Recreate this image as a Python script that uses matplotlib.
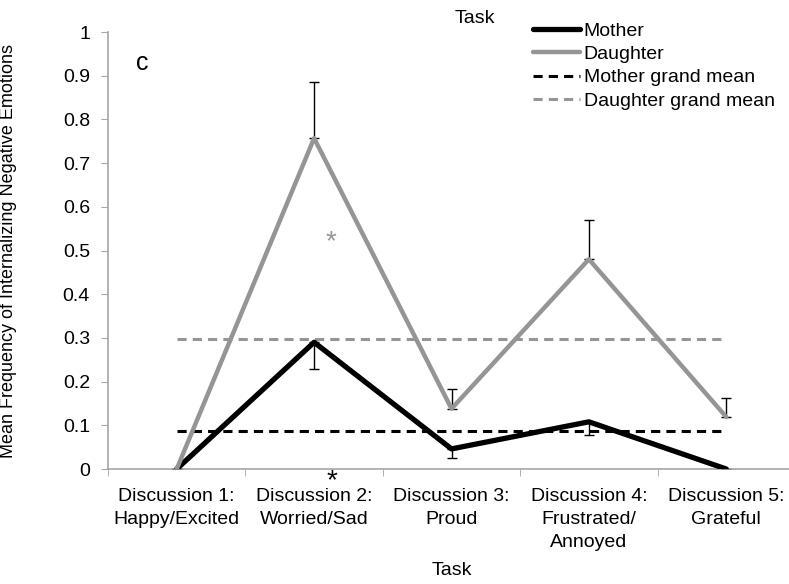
import matplotlib
matplotlib.use("Agg")
import matplotlib.pyplot as plt

plt.rcParams['font.family'] = ['Liberation Sans', 'DejaVu Sans']

# Data
tasks = ["Discussion 1:\nHappy/Excited", "Discussion 2:\nWorried/Sad", "Discussion 3:\nProud",
         "Discussion 4:\nFrustrated/\nAnnoyed", "Discussion 5:\nGrateful"]
mother = [0.0, 0.29, 0.046, 0.108, 0.0]
mother_err = [0.0, 0.062, 0.021, 0.03, 0.0]
daughter = [0.0, 0.757, 0.138, 0.48, 0.119]
daughter_err = [0.0, 0.128, 0.046, 0.09, 0.043]
mother_grand_mean = 0.087
daughter_grand_mean = 0.297
yticks = [0, 0.1, 0.2, 0.3, 0.4, 0.5, 0.6, 0.7, 0.8, 0.9, 1]
ytick_labels = ["0", "0.1", "0.2", "0.3", "0.4", "0.5", "0.6", "0.7", "0.8", "0.9", "1"]

GREY = "#959595"
AXIS = "#a6a6a6"
FS = 14

fig = plt.figure(figsize=(7.89, 5.84), dpi=100)
ax = fig.add_axes([0.1369, 0.1969, 0.8707, 0.7483])

x = list(range(len(tasks)))

# error bars (one sided, as in the original)
ax.errorbar(x, daughter, yerr=[[0] * len(x), daughter_err], fmt='none',
            ecolor='black', elinewidth=1, capsize=3.5, capthick=1, zorder=2)
ax.errorbar(x, mother, yerr=[mother_err, [0] * len(x)], fmt='none',
            ecolor='black', elinewidth=1, capsize=3.5, capthick=1, zorder=2)

ax.plot(x, mother, color='black', lw=3.8, label="Mother", zorder=3,
        solid_capstyle='round')
ax.plot(x, daughter, color=GREY, lw=3.2, label="Daughter", zorder=3,
        solid_capstyle='round')
ax.plot([x[0], x[-1]], [mother_grand_mean] * 2, color='black', lw=2.2,
        ls=(0, (3, 2)), label="Mother grand mean", zorder=2)
ax.plot([x[0], x[-1]], [daughter_grand_mean] * 2, color=GREY, lw=2.2,
        ls=(0, (3, 2)), label="Daughter grand mean", zorder=2)

# significance markers
ax.text(1.12, 0.52, "*", color=GREY, fontsize=20, ha='center', va='center')
ax.text(1.13, -0.029, "*", color='black', fontsize=20, ha='center', va='center',
        clip_on=False)
ax.text(-0.25, 0.93, "c", fontsize=18, ha='center', va='center')

ax.set_xlim(-0.5, 4.5)
ax.set_ylim(0, 1)
ax.set_yticks(yticks)
ax.set_yticklabels(ytick_labels, fontsize=FS)
ax.set_xticks(x)
ax.set_xticklabels(tasks, fontsize=FS, linespacing=1.45)
ax.set_xticks([i - 0.5 for i in x] + [4.5], minor=True)
ax.tick_params(axis='x', which='major', length=0, pad=14)
ax.tick_params(axis='x', which='minor', length=5, color=AXIS, direction='out')
ax.tick_params(axis='y', length=5, color=AXIS, direction='out', pad=8)

for side in ['top', 'right']:
    ax.spines[side].set_visible(False)
for side in ['left', 'bottom']:
    ax.spines[side].set_color(AXIS)
    ax.spines[side].set_linewidth(1.2)

ax.set_ylabel("Mean Frequency of Internalizing Negative Emotions", fontsize=13)
ax.yaxis.set_label_coords(-0.1325, 0.5)
ax.set_xlabel("Task", fontsize=FS, labelpad=8)
fig.text(0.602, 0.969, "Task", fontsize=FS, ha='center', va='center')

ax.legend(loc='upper left', bbox_to_anchor=(533 / 789, 1 - 22 / 584),
          bbox_transform=fig.transFigure, frameon=False, fontsize=FS,
          handlelength=2.4, handletextpad=0.2, labelspacing=0.3,
          borderaxespad=0, borderpad=0)

fig.savefig("out.png", dpi=100)
